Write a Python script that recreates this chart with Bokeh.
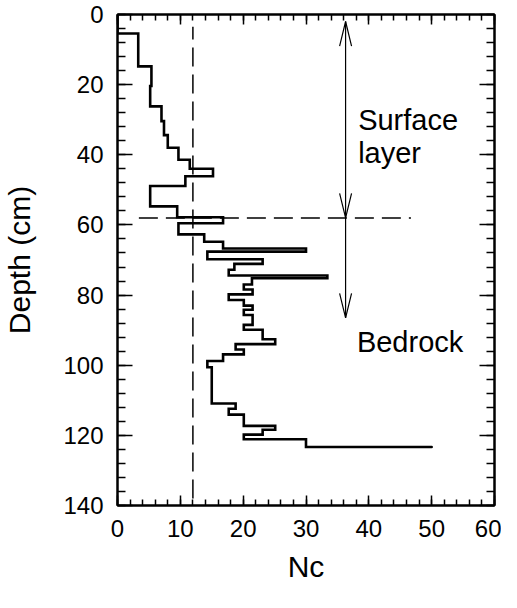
from bokeh.plotting import figure
from bokeh.models import Range1d, LinearAxis, FixedTicker, CustomLabelingPolicy
from bokeh.core.properties import value
from bokeh.embed import file_html
from bokeh.resources import INLINE

# ---- data: cone index Nc per depth interval ----
nc_values = [0, 3.3, 5.4, 5.2, 7.0, 7.4, 8.0, 9.7, 11.5, 15.2,
             10.8, 5.2, 9.5, 16.8, 9.7, 13.8, 16.8, 30.0, 14.3, 23.1,
             18.6, 17.7, 33.4, 21.4, 20.1, 21.5, 17.7, 20.1, 21.5, 20.1,
             21.5, 20.1, 23.1, 25.1, 18.8, 20.1, 16.8, 14.3, 15.0, 18.8,
             17.7, 20.1, 25.1, 23.1, 20.1, 30.0, 50.0]
layer_top = [0, 5.4, 14.8, 20.4, 26.2, 30.4, 34.4, 38.0, 41.4, 44.0,
             46.1, 48.9, 54.7, 57.8, 59.5, 62.7, 64.8, 66.7, 67.6, 69.8,
             71.1, 72.8, 74.4, 75.2, 77.0, 78.4, 79.8, 81.4, 83.0, 84.2,
             85.7, 88.5, 89.9, 92.6, 94.0, 95.5, 96.9, 98.8, 100.6, 110.9,
             112.4, 114.1, 117.3, 118.4, 119.8, 121.1, 123.3]

x_ticks = [0, 10, 20, 30, 40, 50, 60]
y_ticks = [0, 20, 40, 60, 80, 100, 120, 140]

threshold_nc = 12          # vertical dashed line
boundary_depth = 58        # surface layer / bedrock boundary
arrow_nc = 36.3
arrow_top = 2
arrow_bottom = 86.5

FONT = "Liberation Sans"

layer_bottom = layer_top[1:] + [layer_top[-1]]
xs, ys = [], []
for v, t, b in zip(nc_values, layer_top, layer_bottom):
    xs += [v, v]
    ys += [t, b]

p = figure(width=501, height=592, x_range=Range1d(0, 60), y_range=Range1d(140, 0),
           output_backend="svg", toolbar_location=None,
           x_axis_label="Nc", y_axis_label="Depth (cm)")
p.min_border_left = 114
p.min_border_right = 7
p.min_border_top = 14
p.min_border_bottom = 87
p.grid.visible = False
p.outline_line_color = "black"
p.outline_line_width = 2
p.background_fill_color = "white"
p.border_fill_color = "white"

x_minor = list(range(0, 61, 2))
y_minor = list(range(0, 141, 4))

no_labels = CustomLabelingPolicy(code="return new Set()")


def style(ax, ticks, minor, major_len, minor_len, labels=True):
    ax.ticker = FixedTicker(ticks=ticks, minor_ticks=minor)
    ax.major_tick_in = major_len
    ax.major_tick_out = 0
    ax.minor_tick_in = minor_len
    ax.minor_tick_out = 0
    ax.major_tick_line_width = 1.5
    ax.minor_tick_line_width = 1.5
    ax.major_tick_line_color = "black"
    ax.minor_tick_line_color = "black"
    ax.axis_line_width = 2
    ax.axis_line_color = "black"
    if labels:
        ax.major_label_text_font = FONT
        ax.major_label_text_font_size = "24px"
        ax.major_label_text_color = "black"
        ax.major_label_standoff = 14
        ax.axis_label_text_font = FONT
        ax.axis_label_text_font_size = "30px"
        ax.axis_label_text_font_style = "normal"
        ax.axis_label_text_color = "black"
    else:
        ax.major_label_policy = no_labels
        ax.major_label_text_font_size = "1px"
        ax.major_label_standoff = 0


style(p.xaxis[0], x_ticks, x_minor, 10, 6)
style(p.yaxis[0], y_ticks, y_minor, 15, 8)
p.xaxis[0].axis_label_standoff = 10
p.yaxis[0].axis_label_standoff = 24

top_ax = LinearAxis()
style(top_ax, x_ticks, x_minor, 10, 6, labels=False)
p.add_layout(top_ax, "above")
right_ax = LinearAxis()
style(right_ax, y_ticks, y_minor, 15, 8, labels=False)
p.add_layout(right_ax, "right")

# reference lines
p.line([threshold_nc, threshold_nc], [140, 3.5], line_color="black",
       line_width=1.5, line_dash="19 8", line_dash_offset=20)
p.line([3.4, 46.7], [boundary_depth, boundary_depth], line_color="black",
       line_width=1.5, line_dash="19 8")

# profile
p.line(xs, ys, line_color="black", line_width=2.6, line_join="miter", line_cap="round")

# arrows
p.line([arrow_nc, arrow_nc], [arrow_top, arrow_bottom], line_color="black", line_width=1.2)
hl, hw = 7.0, 0.95
heads_x = [[arrow_nc - hw, arrow_nc, arrow_nc + hw]] * 3
heads_y = [[arrow_top + hl, arrow_top, arrow_top + hl],
           [boundary_depth - hl, boundary_depth, boundary_depth - hl],
           [arrow_bottom - hl, arrow_bottom, arrow_bottom - hl]]
p.multi_line(heads_x, heads_y, line_color="black", line_width=1.2)

# labels
p.text(x=[38.3, 38.3, 38.1], y=[30.2, 39.5, 93.5], text=["Surface", "layer", "Bedrock"],
       text_align="left", text_baseline="alphabetic", text_color="black",
       text_font=value(FONT), text_font_size="29px")

open("out.html", "w").write(file_html(p, INLINE))
